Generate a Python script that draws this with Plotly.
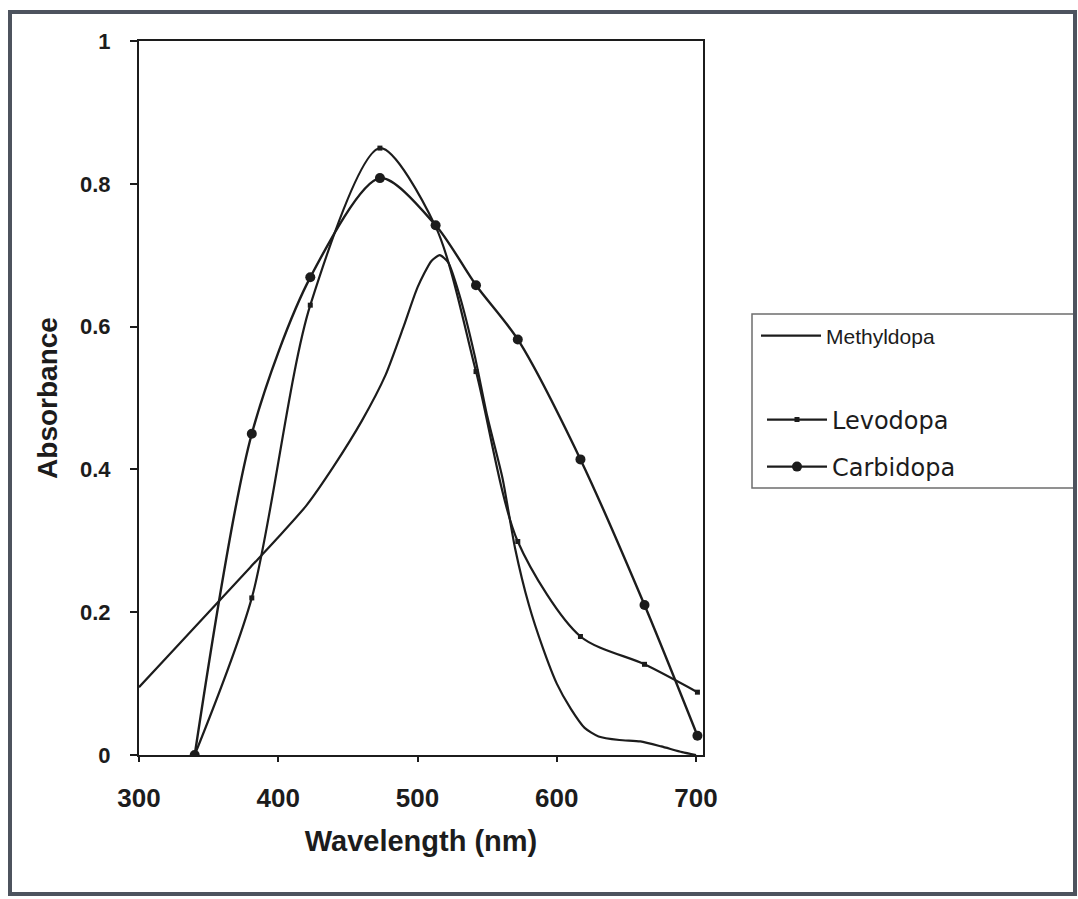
import plotly.graph_objects as go

# ---- data ----
methyldopa_nm = [300, 320, 340, 360, 380, 400, 420, 440, 460, 477, 490, 500, 510, 516,
                 522, 530, 541, 550, 561, 570, 580, 590, 600, 610, 620, 630, 645, 660,
                 675, 690, 700]
methyldopa_abs = [0.095, 0.137, 0.179, 0.221, 0.263, 0.305, 0.349, 0.405, 0.468, 0.532,
                  0.600, 0.655, 0.692, 0.700, 0.690, 0.645, 0.560, 0.475, 0.388, 0.290,
                  0.210, 0.150, 0.100, 0.065, 0.038, 0.026, 0.021, 0.019, 0.012, 0.004,
                  0.0]

drug_nm = [340, 381, 423, 473, 513, 542, 572, 617, 663, 701]
levodopa_abs = [0.0, 0.22, 0.63, 0.85, 0.74, 0.537, 0.299, 0.166, 0.127, 0.088]
carbidopa_abs = [0.0, 0.45, 0.669, 0.808, 0.742, 0.658, 0.582, 0.414, 0.210, 0.027]

x_ticks = [300, 400, 500, 600, 700]
y_ticks = [0, 0.2, 0.4, 0.6, 0.8, 1]

# ---- layout geometry (pixels) ----
W, H = 1078, 899
L, R, T, B = 139, 375, 41, 144
PW, PH = W - L - R, H - T - B


def px(xp):
    return (xp - L) / PW


def py(yp):
    return (H - B - yp) / PH


INK = "#1c1c1c"

fig = go.Figure()
fig.add_trace(go.Scatter(
    x=methyldopa_nm, y=methyldopa_abs, name="Methyldopa", mode="lines",
    line=dict(color=INK, width=2.2, shape="spline", smoothing=0.6),
    legend="legend"))
fig.add_trace(go.Scatter(
    x=drug_nm, y=levodopa_abs, name="Levodopa", mode="lines+markers",
    line=dict(color=INK, width=2.2, shape="spline", smoothing=0.8),
    marker=dict(symbol="square", size=5, color=INK),
    legend="legend2"))
fig.add_trace(go.Scatter(
    x=drug_nm, y=carbidopa_abs, name="Carbidopa", mode="lines+markers",
    line=dict(color=INK, width=2.4, shape="spline", smoothing=0.8),
    marker=dict(symbol="circle", size=10, color=INK),
    legend="legend3"))

tickfont = dict(family="Liberation Sans", size=23, color=INK, weight="bold")
leg_common = dict(xanchor="left", yanchor="middle", bgcolor="rgba(0,0,0,0)",
                  borderwidth=0, itemwidth=60)

fig.update_layout(
    width=W, height=H,
    margin=dict(l=L, r=R, t=T, b=B, autoexpand=False),
    paper_bgcolor="white", plot_bgcolor="white",
    showlegend=True,
    xaxis=dict(
        range=[300, 705], tickvals=x_ticks, ticks="outside", ticklen=5, tickwidth=1.5,
        tickcolor=INK, showline=True, linecolor=INK, linewidth=2, mirror=True,
        showgrid=False, zeroline=False, tickfont=dict(tickfont, size=26),
        ticklabelstandoff=14,
        title=dict(text="Wavelength (nm)", standoff=18,
                   font=dict(family="Liberation Sans", size=29, color=INK, weight="bold")),
    ),
    yaxis=dict(
        range=[0, 1], tickvals=y_ticks, ticks="outside", ticklen=7, tickwidth=1.5,
        tickcolor=INK, showline=True, linecolor=INK, linewidth=2, mirror=True,
        showgrid=False, zeroline=False, tickfont=dict(tickfont, size=22),
        ticklabelstandoff=15,
        title=dict(text="Absorbance", standoff=14,
                   font=dict(family="Liberation Sans", size=28, color=INK, weight="bold")),
    ),
    legend=dict(leg_common, x=px(756), y=py(336),
                font=dict(family="Liberation Sans", size=21, color=INK)),
    legend2=dict(leg_common, x=px(762), y=py(420),
                 font=dict(family="DejaVu Sans", size=24, color=INK)),
    legend3=dict(leg_common, x=px(762), y=py(467),
                 font=dict(family="DejaVu Sans", size=24, color=INK)),
    shapes=[
        # legend box
        dict(type="rect", xref="paper", yref="paper",
             x0=px(752), x1=px(1076), y0=py(488), y1=py(314),
             line=dict(color="#6e6e6e", width=1.5), layer="below"),
        # scanned page frame
        dict(type="rect", xref="paper", yref="paper",
             x0=px(10), x1=px(1075), y0=py(894), y1=py(12),
             line=dict(color="#4d535e", width=4), layer="below"),
    ],
)

fig.write_html("out.html", config={"displayModeBar": False},
               post_script="document.body.style.margin='0';")
